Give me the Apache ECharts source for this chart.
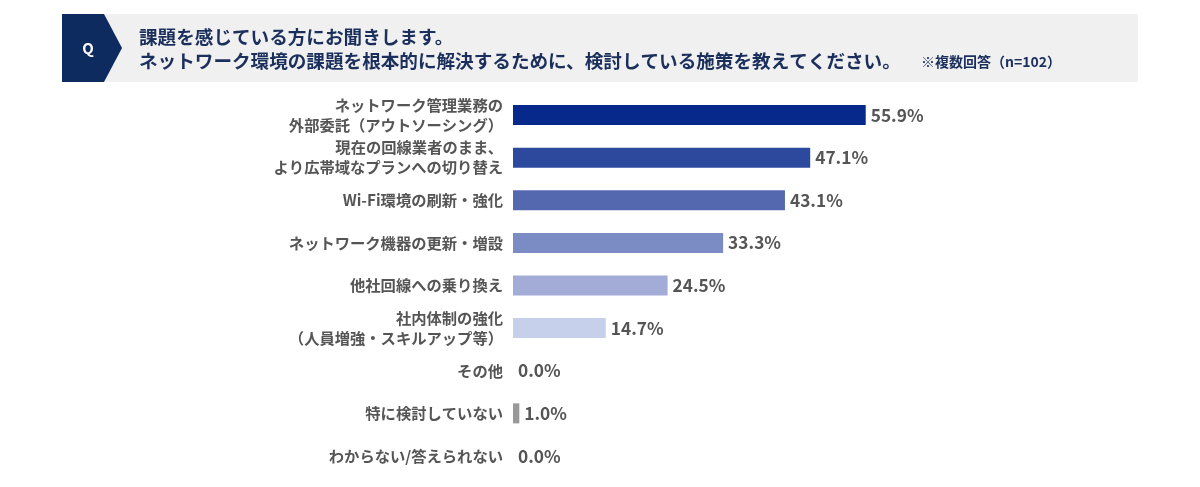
<!DOCTYPE html>
<html>
<head>
<meta charset="utf-8">
<script src="https://cdn.jsdelivr.net/npm/echarts@6/dist/echarts.min.js"></script>
<style>
  html, body { margin: 0; padding: 0; background: #fff; }
  #chart { width: 1200px; height: 487px; }
</style>
</head>
<body>
<div id="chart"></div>
<script>
const categories = [
  'ネットワーク管理業務の\n外部委託（アウトソーシング）',
  '現在の回線業者のまま、\nより広帯域なプランへの切り替え',
  'Wi-Fi環境の刷新・強化',
  'ネットワーク機器の更新・増設',
  '他社回線への乗り換え',
  '社内体制の強化\n（人員増強・スキルアップ等）',
  'その他',
  '特に検討していない',
  'わからない/答えられない',
];
const values = [55.9, 47.1, 43.1, 33.3, 24.5, 14.7, 0.0, 1.0, 0.0];
const barColors = ['#06298b', '#2d499d', '#5468b0', '#7b8bc4', '#a2acd7', '#c7d0ea', '#999999', '#999999', '#999999'];

const titleLine1 = '課題を感じている方にお聞きします。';
const titleLine2 = 'ネットワーク環境の課題を根本的に解決するために、検討している施策を教えてください。';
const note = '※複数回答（n=102）';

const FONT = '"Noto Sans CJK JP", "Noto Sans", sans-serif';
const chart = echarts.init(document.getElementById('chart'), null, { renderer: 'canvas' });

chart.setOption({
  animation: false,
  backgroundColor: '#fff',
  textStyle: { fontFamily: FONT },
  graphic: [
    // header band
    { type: 'rect', shape: { x: 62, y: 14, width: 1076, height: 68 }, style: { fill: '#f0f0f0' } },
    { type: 'polygon', shape: { points: [[62, 14], [104, 14], [122, 48], [104, 82], [62, 82]] }, style: { fill: '#0d2b5e' } },
    { type: 'text', x: 88, y: 48, style: { text: 'Q', fill: '#fff', font: 'bold 15px ' + FONT, align: 'center', verticalAlign: 'middle' } },
    { type: 'text', x: 139, y: 37, style: { text: titleLine1, fill: '#1b2f5c', font: 'bold 18.6px ' + FONT, verticalAlign: 'middle' } },
    { type: 'text', x: 139, y: 61, style: { text: titleLine2, fill: '#1b2f5c', font: 'bold 18.6px ' + FONT, verticalAlign: 'middle' } },
    { type: 'text', x: 921, y: 62, style: { text: note, fill: '#1b2f5c', font: 'bold 14px ' + FONT, verticalAlign: 'middle' } },
  ],
  grid: { left: 513, right: 56, top: 93.7, bottom: 9.7, containLabel: false },
  xAxis: {
    type: 'value', min: 0, max: 100, show: false,
  },
  yAxis: {
    type: 'category',
    inverse: true,
    data: categories,
    axisLine: { show: false },
    axisTick: { show: false },
    axisLabel: {
      margin: 10,
      color: '#555555',
      fontSize: 15.3,
      fontWeight: 'bold',
      fontFamily: FONT,
      lineHeight: 20,
      align: 'right',
    },
  },
  series: [{
    type: 'bar',
    barWidth: 20,
    data: values.map((v, i) => ({ value: v, itemStyle: { color: barColors[i] } })),
    label: {
      show: true,
      position: 'right',
      distance: 5,
      color: '#555555',
      fontSize: 17.3,
      fontWeight: 'bold',
      fontFamily: FONT,
      formatter: p => p.value.toFixed(1) + '%',
    },
  }],
});
</script>
</body>
</html>
